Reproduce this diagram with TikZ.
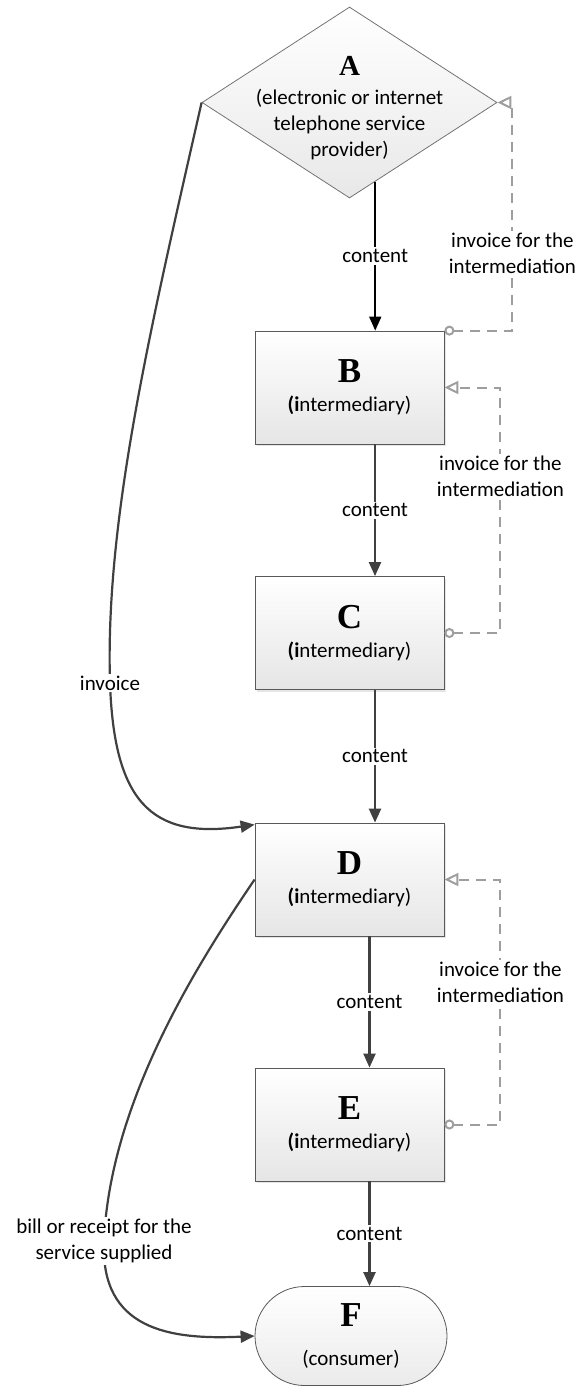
\documentclass[tikz,border=0pt]{standalone}
\usepackage{fontspec}
\setmainfont{Carlito}
\newfontfamily\letterfont{Liberation Serif}
\usetikzlibrary{shapes.geometric,shapes.misc,arrows.meta,shadows}

\newcommand{\partyletter}[2][17.5]{{\letterfont\bfseries\fontsize{#1}{#1}\selectfont #2}}

\tikzset{
	box/.style = {draw = black!65, top color = white, bottom color = black!10,
		minimum width = 94.5pt, minimum height = 56.5pt, inner sep = 0pt,
		align = center, font = \fontsize{10.5}{14.5}\selectfont,
		drop shadow = {shadow xshift = 1.2pt, shadow yshift = -1.2pt, fill = black!10, opacity = 1}},
	decision/.style = {diamond, draw = black!55, top color = white, bottom color = black!9,
		minimum width = 147.5pt, minimum height = 95.5pt, inner sep = 0pt},
	terminal/.style = {rounded rectangle, draw = black!65, top color = white, bottom color = black!8,
		minimum width = 96pt, minimum height = 49.5pt, inner sep = 0pt,
		align = center, font = \fontsize{10.5}{14.5}\selectfont},
	flow/.style = {line width = 1.1pt, draw = black!75, -{Triangle[length = 7pt, width = 6pt]}},
	feedback/.style = {line width = 1pt, draw = black!38, dash pattern = on 5pt off 3.5pt,
		{Circle[open, length = 5pt]}-{Triangle[open, length = 7pt, width = 6.5pt]}},
	lbl/.style = {fill = white, inner sep = 1pt, align = center, font = \fontsize{10.5}{13}\selectfont}
}

\begin{document}
\begin{tikzpicture}[x = 0.5pt, y = -0.5pt]
	\useasboundingbox (0, 0) rectangle (576, 1387);
	% the parties
	\node[decision] (A) at (349.5, 102.5) {};
	\node[align = center, font = \fontsize{10.5}{13}\selectfont] (Atext) at (349.5, 108)
		{\partyletter[14.5]{A}\\[1.5pt](electronic or internet\\telephone service\\provider)};
	\node[box] (B) at (349.5, 387.5) {\partyletter{B}\\\textbf{(i}ntermediary)};
	\node[box] (C) at (349.5, 633)   {\partyletter{C}\\\textbf{(i}ntermediary)};
	\node[box] (D) at (349.5, 879.5) {\partyletter{D}\\\textbf{(i}ntermediary)};
	\node[box] (E) at (349.5, 1124.5) {\partyletter{E}\\\textbf{(i}ntermediary)};
	\node[terminal] (F) at (351, 1336) {\partyletter{F}\\[5pt](consumer)};
	% the content passed down the chain
	\draw[flow, draw = black, line width = 0.9pt] (A.-72) -- node[lbl] {content} (A.-72 |- B.north);
	\draw[flow] ([xshift = 12.75pt]B.south) -- node[lbl] {content} ([xshift = 12.75pt]C.north);
	\draw[flow] ([xshift = 12.75pt]C.south) -- node[lbl] {content} ([xshift = 12.75pt]D.north);
	\draw[flow] ([xshift = 10pt]D.south) -- node[lbl] {content} ([xshift = 10pt]E.north);
	\draw[flow] ([xshift = 10pt]E.south) -- node[lbl] {content} ([xshift = 10pt]E.south |- F.north);
	% invoices for the intermediation
	\draw[feedback] (B.north east) -| node[lbl, pos = 0.67] {invoice for the\\intermediation}
		([xshift = 7.5pt]A.east) -- (A.east);
	\draw[feedback] (C.east) -- ++(56, 0) |- node[lbl, pos = 0.32] {invoice for the\\intermediation} (B.east);
	\draw[feedback] (E.east) -- ++(56, 0) |- node[lbl, pos = 0.29] {invoice for the\\intermediation} (D.east);
	% invoice and bill
	\draw[flow] (A.west) .. controls (150, 330) and (105, 520) .. (110, 683) node[lbl] {invoice}
		.. controls (114, 800) and (150, 840) .. ([yshift = -1pt]D.north west);
	\draw[flow] (D.west) .. controls (200, 960) and (110, 1100) .. (104, 1241)
		node[lbl] {bill or receipt for the\\service supplied}
		.. controls (100, 1330) and (170, 1340) .. (F.west);
\end{tikzpicture}
\end{document}
